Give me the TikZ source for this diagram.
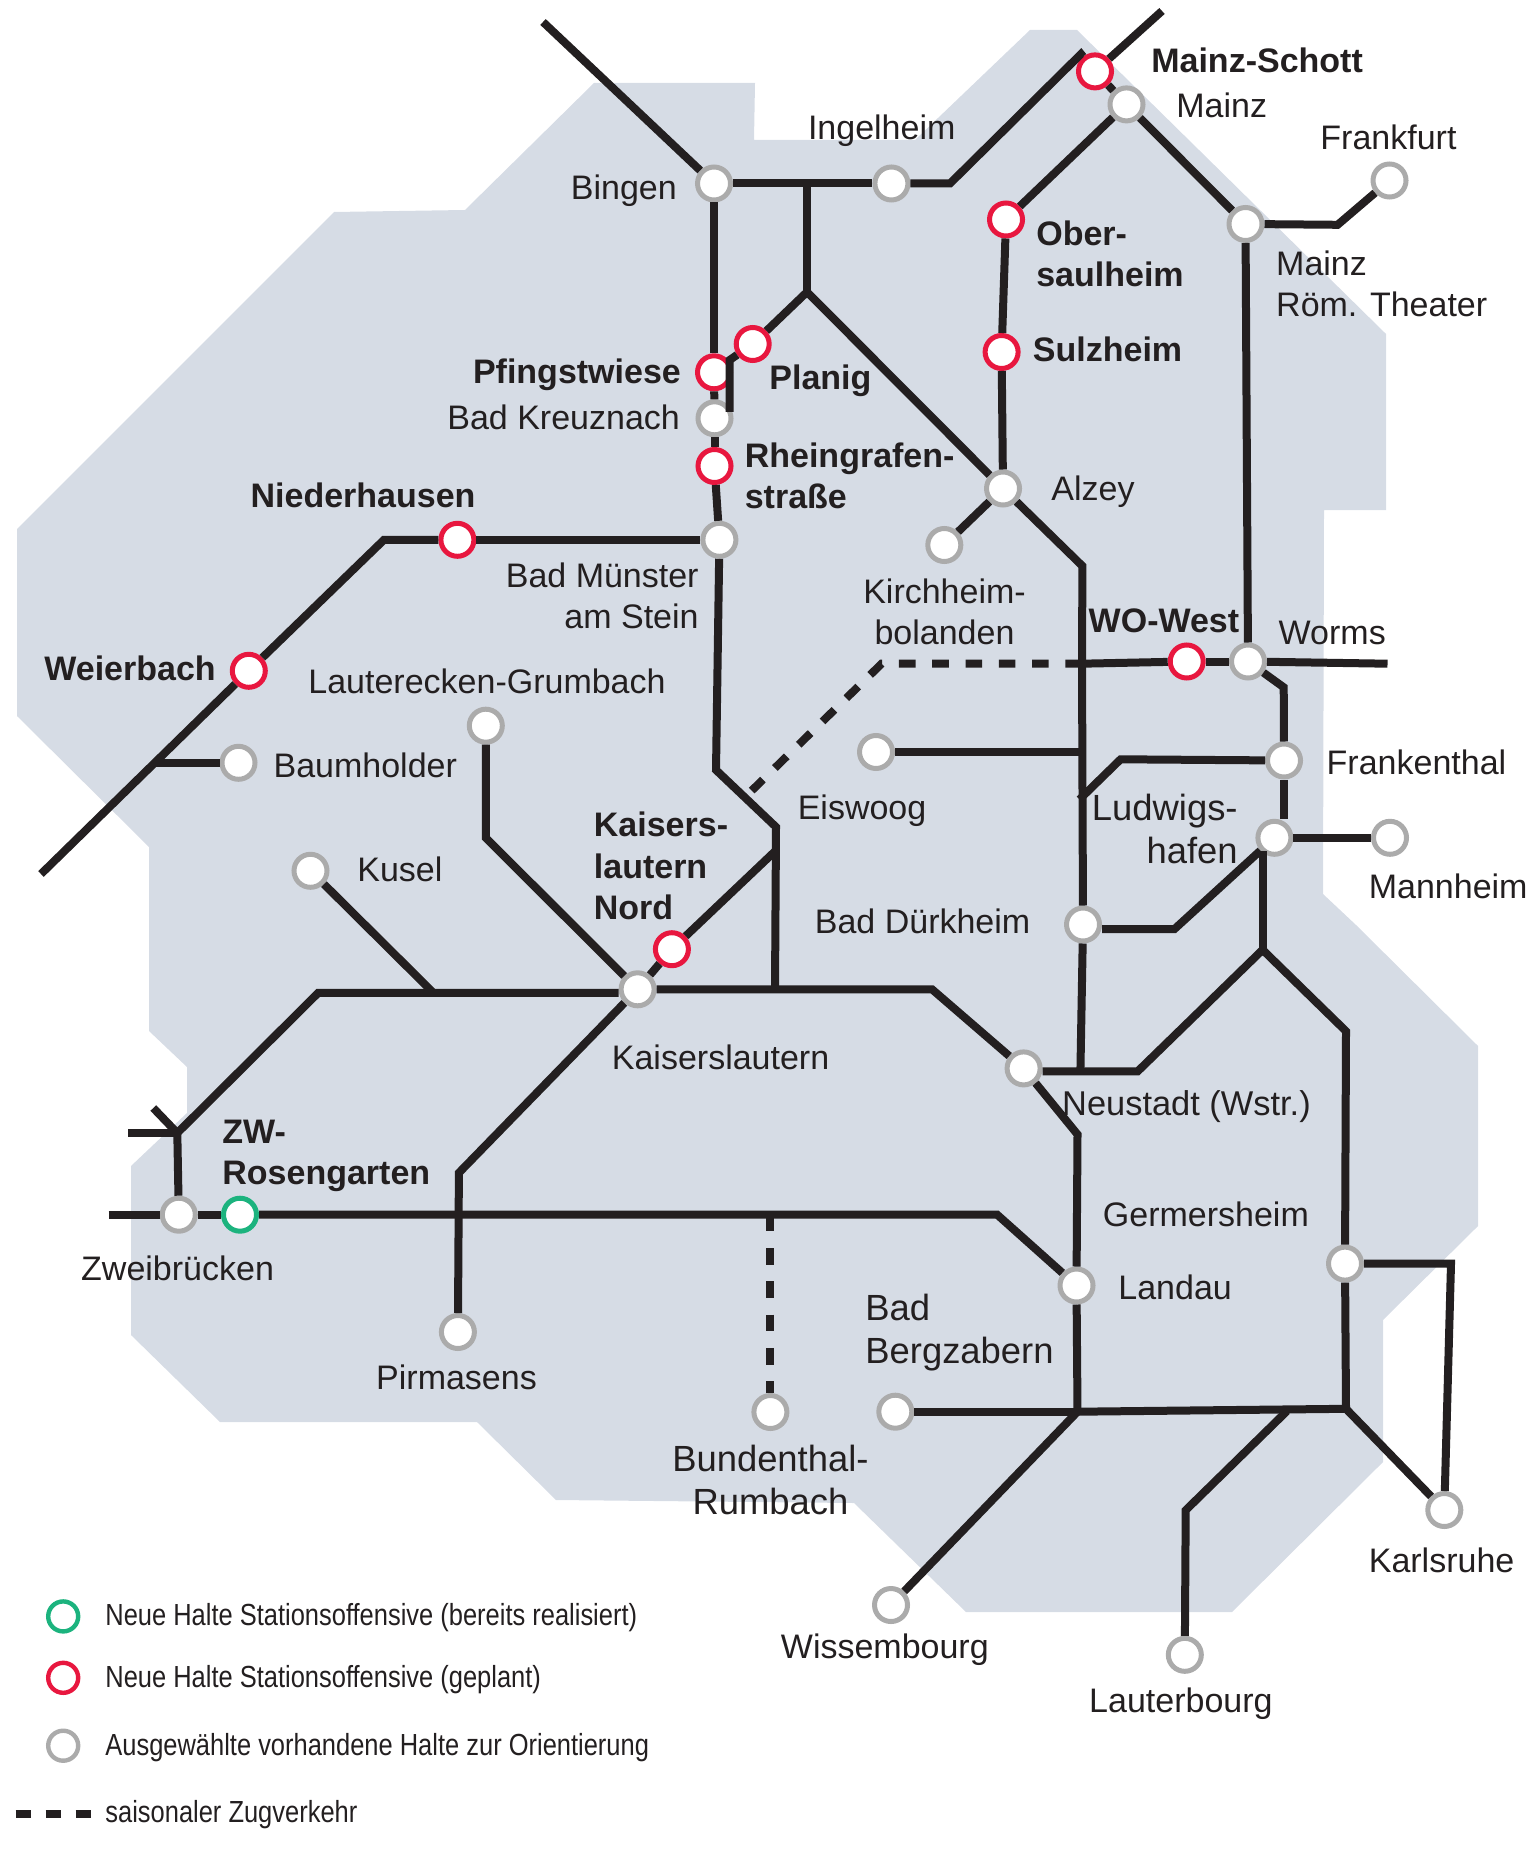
\documentclass[tikz,border=0pt]{standalone}
\usepackage{fontspec}
\setmainfont{Liberation Sans}
\newfontfamily\legendfont[FakeStretch=0.835]{Liberation Sans}
\usepackage{xcolor}
\usetikzlibrary{positioning,calc}
\definecolor{landgrey}{RGB}{214,220,229}
\definecolor{trackblack}{RGB}{35,31,32}
\definecolor{haltgrey}{RGB}{171,171,171}
\definecolor{haltred}{RGB}{232,23,63}
\definecolor{haltgreen}{RGB}{28,179,126}

\begin{document}
\begin{tikzpicture}[
    x=0.5pt, y=-0.5pt,
    halt/.style={circle, draw=haltgrey, fill=white, line width=2.5pt, minimum size=16.5pt, inner sep=0pt},
    haltneu/.style={halt, draw=haltred},
    haltreal/.style={halt, draw=haltgreen},
    legendhalt/.style={circle, draw=#1, fill=white, line width=2.2pt, minimum size=15pt, inner sep=0pt},
    track/.style={draw=trackblack, line width=4pt, miter limit=4},
    seasonal/.style={track, dash pattern=on 8.3pt off 8.35pt},
    lbl/.style={font=\fontsize{17}{20.6}\selectfont, text=trackblack, inner sep=0pt, anchor=base west},
    lblb/.style={lbl, font=\fontsize{17}{20.6}\selectfont\bfseries},
    mlbl/.style={lbl, anchor=west, align=left},
    mlblb/.style={lblb, anchor=west, align=left},
    biglbl/.style={font=\fontsize{18.2}{21.6}\selectfont},
    legendtxt/.style={font=\fontsize{15.25}{18}\legendfont, text=trackblack, inner sep=0pt, anchor=base west}
]
    \useasboundingbox (0,0) rectangle (1536,1850);

    % Land
    \fill[landgrey] (594,83) -- (755,83) -- (754,140) -- (915,140) -- (1030,30) -- (1077,30)
        -- (1386,334) -- (1386,510) -- (1324,510) -- (1323,894) -- (1356,925) -- (1478,1046)
        -- (1478,1226) -- (1383,1320) -- (1383,1462) -- (1232,1612) -- (966,1612) -- (854,1503)
        -- (556,1500) -- (477,1422) -- (220,1422) -- (131,1335) -- (131,1166) -- (187,1113)
        -- (187,1067) -- (149,1031) -- (149,847) -- (17,716) -- (17,529) -- (334,212)
        -- (465,210) -- cycle;

    % Bends and free ends
    \coordinate (nwend) at (543,22);
    \coordinate (neend) at (1162,11);
    \coordinate (ingbend) at (950,183.5);
    \coordinate (schottbend) at (1081,54);
    \coordinate (binbranch) at (807,183.5);
    \coordinate (binfork) at (807,292);
    \coordinate (planigbend) at (729.7,360);
    \coordinate (kreuzbend) at (729.7,412);
    \coordinate (alzbend) at (1082.4,566);
    \coordinate (westcross) at (1082,663.7);
    \coordinate (eiscross) at (1080,752);
    \coordinate (dashbend) at (881.6,663.7);
    \coordinate (dashend) at (751.7,790.6);
    \coordinate (wormsend) at (1387.5,663.7);
    \coordinate (wormsbend) at (1283.7,687.3);
    \coordinate (frankbend) at (1337.6,224.8);
    \coordinate (frankthbend) at (1120.6,759.3);
    \coordinate (frankthend) at (1079.5,799.4);
    \coordinate (duerkbend) at (1174.5,929);
    \coordinate (ludwend) at (1262.6,949.8);
    \coordinate (neustbend) at (1137.7,1071.3);
    \coordinate (neustfoot) at (1080.4,1071.3);
    \coordinate (germbend) at (1346,1031.2);
    \coordinate (germfoot) at (1346,1408.8);
    \coordinate (germright) at (1451,1263.6);
    \coordinate (landfoot) at (1077.5,1411.7);
    \coordinate (neustlow) at (1077.5,1134.4);
    \coordinate (kloben) at (932,989.3);
    \coordinate (klright) at (775,989.3);
    \coordinate (klmid) at (433.4,992.8);
    \coordinate (klleft) at (318.3,992.8);
    \coordinate (zwfork) at (177.3,1133);
    \coordinate (zwleft) at (128.3,1133);
    \coordinate (zwtop) at (153.3,1108);
    \coordinate (zwend) at (108.7,1214.7);
    \coordinate (zwbend) at (997.2,1214.7);
    \coordinate (bundtop) at (770.4,1214.7);
    \coordinate (pirmbend) at (458.9,1172.8);
    \coordinate (lautbend) at (485.8,837.8);
    \coordinate (muensbend) at (716,770);
    \coordinate (muensdown) at (776,827);
    \coordinate (klnordend) at (775.3,851);
    \coordinate (nieder) at (384,539.8);
    \coordinate (weierend) at (41,874);
    \coordinate (baumfork) at (155,762.8);
    \coordinate (lauterbend) at (1185.7,1510.2);
    \coordinate (lauterfoot) at (1287,1411);

    % Halte
    \node[halt] (bingen) at (714,183.5) {};
    \node[halt] (ingelheim) at (891.4,183.5) {};
    \node[haltneu] (schott) at (1095,71.4) {};
    \node[halt] (mainz) at (1126.5,104.4) {};
    \node[halt] (roem) at (1245.5,224) {};
    \node[halt] (frankfurt) at (1389.5,180.5) {};
    \node[haltneu] (ober) at (1006,219.5) {};
    \node[haltneu] (sulz) at (1001.6,352) {};
    \node[halt] (alzey) at (1003,488.5) {};
    \node[halt] (kirch) at (944.3,545) {};
    \node[haltneu] (wowest) at (1186.7,661.5) {};
    \node[halt] (worms) at (1248,661.5) {};
    \node[halt] (frankth) at (1284,760.5) {};
    \node[halt] (ludw) at (1274.4,837.8) {};
    \node[halt] (mannheim) at (1390,837.8) {};
    \node[halt] (eiswoog) at (876,752) {};
    \node[haltneu] (planig) at (752.7,344) {};
    \node[haltneu] (pfingst) at (714,372.3) {};
    \node[halt] (kreuz) at (714.5,418.3) {};
    \node[haltneu] (rhein) at (714.5,466) {};
    \node[halt] (muenster) at (719.4,539.8) {};
    \node[haltneu] (niederh) at (457.4,539.8) {};
    \node[haltneu] (weier) at (248.8,670.8) {};
    \node[halt] (lauterg) at (485.8,725.7) {};
    \node[halt] (baum) at (238.5,762.8) {};
    \node[halt] (kusel) at (310.5,870.8) {};
    \node[halt] (kl) at (637.6,989.3) {};
    \node[haltneu] (klnord) at (671.9,949.2) {};
    \node[halt] (zweib) at (178.8,1214.7) {};
    \node[haltreal] (rosen) at (240,1214.7) {};
    \node[halt] (pirm) at (457.9,1332) {};
    \node[halt] (bund) at (770.4,1412) {};
    \node[halt] (duerk) at (1083,924.5) {};
    \node[halt] (neust) at (1023.6,1068.4) {};
    \node[halt] (landau) at (1076.5,1285.5) {};
    \node[halt] (germ) at (1345,1263.6) {};
    \node[halt] (bergz) at (895.3,1411.7) {};
    \node[halt] (wiss) at (891,1605) {};
    \node[halt] (lauterb) at (1184.8,1654.8) {};
    \node[halt] (karls) at (1444.3,1510) {};

    % Strecken
    \draw[track] (nwend) -- (bingen);
    \draw[track] (bingen) -- (ingelheim);
    \draw[track] (ingelheim) -- (ingbend) -- (schottbend) -- (schott);
    \draw[track] (neend) -- (schott);
    \draw[track] (schott) -- (mainz);
    \draw[track] (mainz) -- (roem);
    \draw[track] (roem) -- (frankbend) -- (frankfurt);
    \draw[track] (roem) -- (worms);
    \draw[track] (mainz) -- (ober);
    \draw[track] (ober) -- (sulz);
    \draw[track] (sulz) -- (alzey);
    \draw[track] (alzey) -- (kirch);
    \draw[track] (binbranch) -- (binfork);
    \draw[track] (binfork) -- (alzey);
    \draw[track] (binfork) -- (planig);
    \draw[track] (planig) -- (planigbend) -- (kreuzbend);
    \draw[track] (bingen) -- (pfingst);
    \draw[track] (pfingst) -- (kreuz);
    \draw[track] (kreuz) -- (rhein);
    \draw[track] (rhein) -- (muenster);
    \draw[track] (muenster) -- (niederh);
    \draw[track] (niederh) -- (nieder) -- (weier);
    \draw[track] (weier) -- (weierend);
    \draw[track] (baumfork) -- (baum);
    \draw[track] (muenster) -- (muensbend) -- (muensdown) -- (klright);
    \draw[track] (kl) -- (klnord);
    \draw[track] (klnord) -- (klnordend);
    \draw[track] (alzey) -- (alzbend) -- (westcross) -- (duerk);
    \draw[seasonal] (westcross) -- (dashbend) -- (dashend);
    \draw[track] (westcross) -- (wowest);
    \draw[track] (wowest) -- (worms);
    \draw[track] (worms) -- (wormsend);
    \draw[track] (worms) -- (wormsbend) -- (frankth);
    \draw[track] (frankth) -- (ludw.north -| frankth);
    \draw[track] (eiswoog) -- (eiscross);
    \draw[track] (frankth) -- (frankthbend) -- (frankthend);
    \draw[track] (duerkbend -| duerk.east) -- (duerkbend) -- (ludw);
    \draw[track] (ludw) -- (mannheim);
    \draw[track] (duerk) -- (neustfoot);
    \draw[track] (ludw.south west -| ludwend) -- (ludwend);
    \draw[track] (neustbend -| neust.east) -- (neustbend) -- (ludwend) -- (germbend) -- (germ);
    \draw[track] (germ) -- (germfoot);
    \draw[track] (germ) -- (germright) -- (karls);
    \draw[track] (germfoot) -- (karls);
    \draw[track] (germfoot) -- (landfoot);
    \draw[track] (bergz) -- (landfoot);
    \draw[track] (wiss) -- (landfoot);
    \draw[track] (lauterb) -- (lauterbend) -- (lauterfoot);
    \draw[track] (landau) -- (landfoot);
    \draw[track] (neust) -- (neustlow) -- (landau);
    \draw[track] (kl) -- (kloben) -- (neust);
    \draw[track] (klmid -| kl.west) -- (klleft) -- (zwfork);
    \draw[track] (kusel) -- (klmid);
    \draw[track] (lauterg) -- (lautbend) -- (kl);
    \draw[track] (zwleft) -- (zwfork);
    \draw[track] (zwtop) -- (zwfork);
    \draw[track] (zwfork) -- (zweib);
    \draw[track] (zwend) -- (zweib);
    \draw[track] (zweib) -- (rosen);
    \draw[track] (rosen) -- (zwbend) -- (landau);
    \draw[track] (kl) -- (pirmbend) -- (pirm);
    \draw[seasonal] (bundtop) -- (bund);

    % Beschriftung
    \node[lbl] (lbingen) at (570.5,199.4) {Bingen};
    \node[lbl] (lingelheim) at (807.6,139.8) {Ingelheim};
    \node[lblb] (lschott) at (1150.9,72.5) {Mainz-Schott};
    \node[lbl] (lmainz) at (1176,118) {Mainz};
    \node[lbl] (lfrankfurt) at (1320,149.2) {Frankfurt};
    \node[mlblb] (lober) at (1035.9,254) {Ober-\\saulheim};
    \node[mlbl] (lroem) at (1275.8,283.5) {Mainz\\Röm. Theater};
    \node[lblb] (lsulz) at (1032.5,361.7) {Sulzheim};
    \node[lblb] (lplanig) at (769,389.4) {Planig};
    \node[mlblb] (lrhein) at (744.4,475.5) {Rheingrafen-\\straße};
    \node[lblb] (lpfingst) at (472.6,383.5) {Pfingstwiese};
    \node[lbl] (lkreuz) at (447,429.5) {Bad Kreuznach};
    \node[lblb] (lniederh) at (250.2,507) {Niederhausen};
    \node[mlbl, anchor=east, align=right] (lmuenster) at (699,595.5) {Bad Münster\\am Stein};
    \node[lbl] (lalzey) at (1051,500.3) {Alzey};
    \node[mlbl, anchor=center, align=center] (lkirch) at (944.5,612) {Kirchheim-\\bolanden};
    \node[lblb] (lwowest) at (1088.3,632.4) {WO-West};
    \node[lbl] (lworms) at (1278.3,644.8) {Worms};
    \node[lblb] (lweier) at (44,680) {Weierbach};
    \node[lbl] (llauterg) at (308,693) {Lauterecken-Grumbach};
    \node[lbl] (lbaum) at (273.2,777) {Baumholder};
    \node[lbl] (lfrankth) at (1326.3,774) {Frankenthal};
    \node[lbl] (leiswoog) at (797.4,819) {Eiswoog};
    \node[mlbl, biglbl, anchor=east, align=right] (lludw) at (1238,829) {Ludwigs-\\hafen};
    \node[lbl] (lmannheim) at (1368.4,898) {Mannheim};
    \node[mlblb] (lklnord) at (593.5,866) {Kaisers-\\lautern\\Nord};
    \node[lbl] (lkusel) at (357,881.3) {Kusel};
    \node[lbl] (lduerk) at (814.5,933) {Bad Dürkheim};
    \node[lbl] (lkl) at (611.5,1069.5) {Kaiserslautern};
    \node[lbl, font=\fontsize{17.2}{20.6}\selectfont] (lneust) at (1061.8,1115) {Neustadt (Wstr.)};
    \node[mlblb] (lrosen) at (222,1156) {ZW-\\Rosengarten};
    \node[lbl] (lgerm) at (1102.5,1226.5) {Germersheim};
    \node[lbl] (llandau) at (1118,1299) {Landau};
    \node[mlbl, biglbl] (lbergz) at (865,1332.5) {Bad\\Bergzabern};
    \node[lbl] (lzweib) at (80.8,1280) {Zweibrücken};
    \node[lbl, anchor=base] (lpirm) at (456.5,1389) {Pirmasens};
    \node[mlbl, biglbl, anchor=center, align=center] (lbund) at (770.4,1480) {Bundenthal-\\Rumbach};
    \node[lbl] (lwiss) at (780.5,1658) {Wissembourg};
    \node[lbl] (llauterb) at (1088.8,1712.6) {Lauterbourg};
    \node[lbl] (lkarls) at (1368.4,1572) {Karlsruhe};

    % Legende
    \node[legendhalt=haltgreen] (legreal) at (63.2,1616.4) {};
    \node[legendhalt=haltred] (legneu) at (63.2,1677.8) {};
    \node[legendhalt=haltgrey] (leghalt) at (63.2,1745.7) {};
    \coordinate (legdasha) at (15.7,1814);
    \coordinate (legdashb) at (91,1814);
    \draw[draw=trackblack, line width=4pt, dash pattern=on 7.5pt off 7.5pt] (legdasha) -- (legdashb);
    \node[legendtxt] (ltreal) at (105,1625.9) {Neue Halte Stationsoffensive (bereits realisiert)};
    \node[legendtxt] (ltneu) at (105,1687.8) {Neue Halte Stationsoffensive (geplant)};
    \node[legendtxt] (lthalt) at (105,1755.7) {Ausgewählte vorhandene Halte zur Orientierung};
    \node[legendtxt] (ltdash) at (105,1822.9) {saisonaler Zugverkehr};
\end{tikzpicture}
\end{document}
